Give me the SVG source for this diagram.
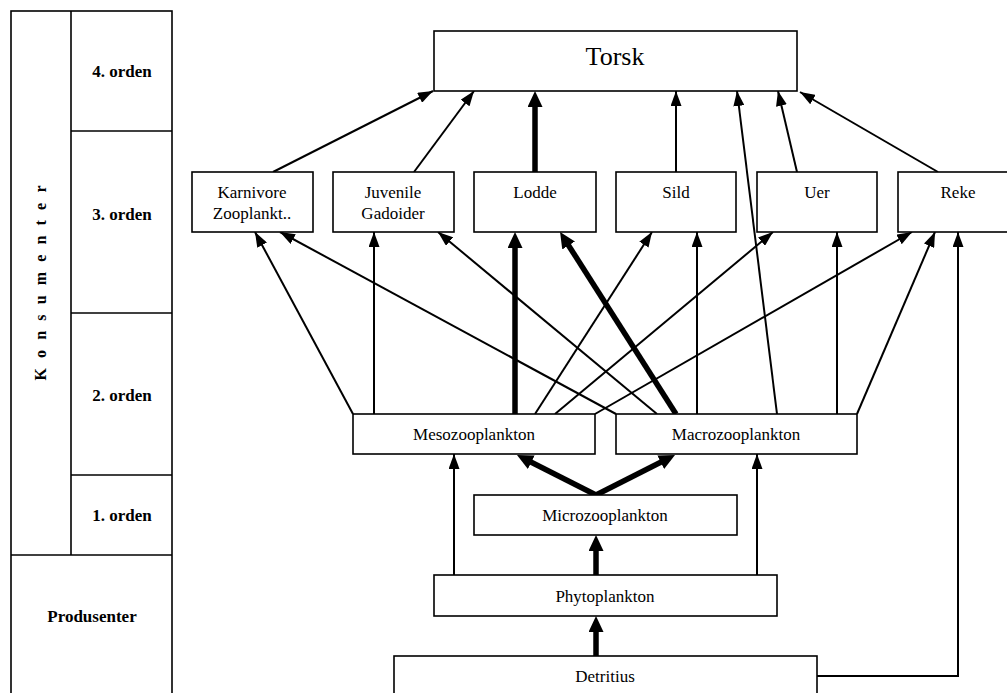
<svg xmlns="http://www.w3.org/2000/svg" width="1007" height="693" viewBox="0 0 1007 693">
<style>
.box{fill:#fff;stroke:#000;stroke-width:1.6}
.lab{font-family:"Liberation Serif","Times New Roman",Times,serif;font-size:17px;fill:#000;text-anchor:middle}
.big{font-size:26px}
.hd{font-family:"Liberation Serif","Times New Roman",Times,serif;font-size:17px;font-weight:bold;fill:#000;text-anchor:middle}
.vert{font-size:16px}
.thin{stroke:#000;stroke-width:2;fill:none;marker-end:url(#ah)}
.thick{stroke:#000;stroke-width:5.5;fill:none;marker-end:url(#ahb)}
.grid{stroke:#000;stroke-width:1.6;fill:none}
</style>
<defs>
<marker id="ah" viewBox="0 0 15 11" refX="15" refY="5.5" markerWidth="15" markerHeight="11" markerUnits="userSpaceOnUse" orient="auto">
<path d="M0,0 L15,5.5 L0,11 z" fill="#000"/>
</marker>
<marker id="ahb" viewBox="0 0 16 15" refX="6" refY="7.5" markerWidth="16" markerHeight="15" markerUnits="userSpaceOnUse" orient="auto">
<path d="M0,0 L16,7.5 L0,15 z" fill="#000"/>
</marker>
</defs>
<rect width="1007" height="693" fill="#fff"/>

<g id="legend">
<rect class="grid" x="11" y="11" width="161" height="700"/>
<line class="grid" x1="71" y1="11" x2="71" y2="555"/>
<line class="grid" x1="71" y1="131" x2="172" y2="131"/>
<line class="grid" x1="71" y1="313" x2="172" y2="313"/>
<line class="grid" x1="71" y1="475" x2="172" y2="475"/>
<line class="grid" x1="11" y1="555" x2="172" y2="555"/>
<text class="hd" x="122" y="77">4. orden</text>
<text class="hd" x="122" y="220">3. orden</text>
<text class="hd" x="122" y="401">2. orden</text>
<text class="hd" x="122" y="521">1. orden</text>
<text class="hd" x="92" y="622">Produsenter</text>
<text class="hd vert" transform="translate(46,283) rotate(-90)" x="0" y="0" textLength="195" lengthAdjust="spacing">Konsumenter</text>
</g>

<g id="connectors">
<line class="thin" x1="273" y1="172" x2="433" y2="91"/>
<line class="thin" x1="414" y1="172" x2="474" y2="91"/>
<line class="thick" x1="535" y1="172" x2="535" y2="101"/>
<line class="thin" x1="676" y1="172" x2="676" y2="91"/>
<line class="thin" x1="777" y1="414" x2="737" y2="91"/>
<line class="thin" x1="797" y1="172" x2="778" y2="91"/>
<line class="thin" x1="938" y1="172" x2="800" y2="92"/>

<line class="thin" x1="353" y1="414" x2="255" y2="232"/>
<line class="thin" x1="374" y1="414" x2="374" y2="232"/>
<line class="thick" x1="515" y1="414" x2="515" y2="242"/>
<line class="thin" x1="535" y1="414" x2="652" y2="232"/>
<line class="thin" x1="555" y1="414" x2="773" y2="232"/>
<line class="thin" x1="595" y1="414" x2="912" y2="232"/>

<line class="thin" x1="616" y1="414" x2="280" y2="232"/>
<line class="thin" x1="657" y1="414" x2="438" y2="232"/>
<line class="thick" x1="676" y1="414" x2="565.4" y2="240.4"/>
<line class="thin" x1="697" y1="414" x2="697" y2="232"/>
<line class="thin" x1="837" y1="414" x2="837" y2="232"/>
<line class="thin" x1="857" y1="414" x2="935" y2="232"/>

<line class="thick" x1="596" y1="495" x2="525.9" y2="459.5"/>
<line class="thick" x1="596" y1="495" x2="666.1" y2="459.5"/>
<line class="thin" x1="454" y1="575" x2="454" y2="454"/>
<line class="thin" x1="757" y1="575" x2="757" y2="454"/>
<line class="thick" x1="596" y1="575" x2="596" y2="545"/>
<line class="thick" x1="596" y1="656" x2="596" y2="626"/>
<polyline class="thin" points="817,676 958,676 958,232"/>
</g>

<g id="torsk">
<rect class="box" x="434" y="31" width="363" height="60"/>
<text class="lab big" x="615" y="65">Torsk</text>
</g>
<g id="karnivore">
<rect class="box" x="192" y="172" width="121" height="60"/>
<text class="lab" x="252" y="198">Karnivore</text>
<text class="lab" x="252" y="219">Zooplankt..</text>
</g>
<g id="juvenile">
<rect class="box" x="333" y="172" width="121" height="60"/>
<text class="lab" x="393" y="198">Juvenile</text>
<text class="lab" x="393" y="219">Gadoider</text>
</g>
<g id="lodde">
<rect class="box" x="474" y="172" width="122" height="60"/>
<text class="lab" x="535" y="198">Lodde</text>
</g>
<g id="sild">
<rect class="box" x="616" y="172" width="120" height="60"/>
<text class="lab" x="676" y="198">Sild</text>
</g>
<g id="uer">
<rect class="box" x="757" y="172" width="120" height="60"/>
<text class="lab" x="817" y="198">Uer</text>
</g>
<g id="reke">
<rect class="box" x="898" y="172" width="121" height="60"/>
<text class="lab" x="958" y="198">Reke</text>
</g>
<g id="meso">
<rect class="box" x="353" y="414" width="242" height="40"/>
<text class="lab" x="474" y="440">Mesozooplankton</text>
</g>
<g id="macro">
<rect class="box" x="616" y="414" width="241" height="40"/>
<text class="lab" x="736" y="440">Macrozooplankton</text>
</g>
<g id="micro">
<rect class="box" x="474" y="495" width="263" height="40"/>
<text class="lab" x="605" y="521">Microzooplankton</text>
</g>
<g id="phyto">
<rect class="box" x="434" y="575" width="343" height="41"/>
<text class="lab" x="605" y="602">Phytoplankton</text>
</g>
<g id="detritius">
<rect class="box" x="394" y="656" width="423" height="60"/>
<text class="lab" x="605" y="682">Detritius</text>
</g>
</svg>
